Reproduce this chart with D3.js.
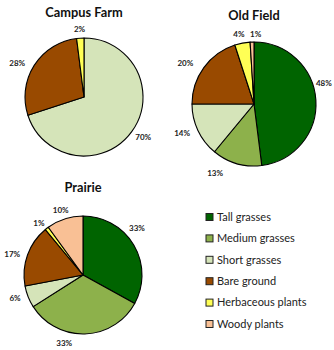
<!DOCTYPE html>
<html>
<head>
<meta charset="utf-8">
<script src="https://cdn.jsdelivr.net/npm/d3@7"></script>
<style>
  html, body { margin: 0; padding: 0; background: #fff; }
  svg { display: block; }
</style>
</head>
<body>
<svg id="chart" width="334" height="350"></svg>
<script>
// Land-cover categories (legend order = slice order)
const categories = ["Tall grasses", "Medium grasses", "Short grasses", "Bare ground", "Herbaceous plants", "Woody plants"];
const colors = ["#006400", "#8db14b", "#d5e4b9", "#994a00", "#ffff55", "#f9c095"];

// Percent cover per site
const sites = ["Campus Farm", "Old Field", "Prairie"];
const campusFarm = [0, 0, 70, 28, 2, 0];
const oldField = [48, 13, 14, 20, 4, 1];
const prairie = [33, 33, 6, 17, 1, 10];

// Pie placement and per-label offsets from the default outer position
const siteLayout = [
  { cx: 84, cy: 97, r: 59, tx: 84, ty: 17, values: campusFarm,
    nudges: [null, null, [1, -2], [-6, 5], [0, 4], null] },
  { cx: 254, cy: 104, r: 62, tx: 254, ty: 20, values: oldField,
    nudges: [[-5, -16], [-18, -3], [-4, -3], [-8, 3], [-1, 4], [4, 5]] },
  { cx: 83, cy: 275, r: 59, tx: 83, ty: 192, values: prairie,
    nudges: [[-8, -10], [-21, -4], [-1, -3], [-3, 4], [0, 5], [0, 4]] }
];

const svg = d3.select("#chart");
const fontFam = "Lato, 'Open Sans', sans-serif";

const pie = d3.pie().sort(null).value(d => d.value);

siteLayout.forEach((s, si) => {
  const data = categories.map((c, i) => ({ cat: c, value: s.values[i], idx: i }));
  const arcs = pie(data);
  const arc = d3.arc().innerRadius(0).outerRadius(s.r);
  const labelArc = d3.arc().innerRadius(s.r + 13).outerRadius(s.r + 13);

  const g = svg.append("g").attr("transform", `translate(${s.cx},${s.cy})`);

  g.selectAll("path.slice")
    .data(arcs.filter(a => a.data.value > 0))
    .join("path")
    .attr("class", "slice")
    .attr("d", arc)
    .attr("fill", d => colors[d.data.idx])
    .attr("stroke", "#000")
    .attr("stroke-width", 1.1)
    .attr("stroke-linejoin", "round");

  g.selectAll("text.pct")
    .data(arcs.filter(a => a.data.value > 0))
    .join("text")
    .attr("class", "pct")
    .attr("transform", d => {
      const [x, y] = labelArc.centroid(d);
      const n = s.nudges[d.data.idx] || [0, 0];
      return `translate(${x + n[0]},${y + n[1]})`;
    })
    .attr("text-anchor", "middle")
    .attr("dy", "0.35em")
    .attr("font-family", fontFam)
    .attr("font-weight", "bold")
    .attr("font-size", 8)
    .attr("fill", "#222")
    .text(d => d.data.value + "%");

  svg.append("text")
    .attr("x", s.tx)
    .attr("y", s.ty)
    .attr("text-anchor", "middle")
    .attr("font-family", fontFam)
    .attr("font-weight", "bold")
    .attr("font-size", 12.8)
    .attr("fill", "#111")
    .text(sites[si]);
});

// Legend
const legend = svg.append("g").attr("transform", "translate(206,213.5)");
const rowY = d3.scalePoint().domain(categories).range([0, 107]);
const rows = legend.selectAll("g.row")
  .data(categories)
  .join("g")
  .attr("class", "row")
  .attr("transform", d => `translate(0,${rowY(d)})`);
rows.append("rect")
  .attr("x", 0).attr("y", 0)
  .attr("width", 7).attr("height", 7)
  .attr("fill", (d, i) => colors[i])
  .attr("stroke", "#222")
  .attr("stroke-width", 1);
rows.append("text")
  .attr("x", 11)
  .attr("y", 3.5)
  .attr("dy", "0.35em")
  .attr("font-family", fontFam)
  .attr("font-size", 11)
  .attr("fill", "#222")
  .text(d => d);
</script>
</body>
</html>
